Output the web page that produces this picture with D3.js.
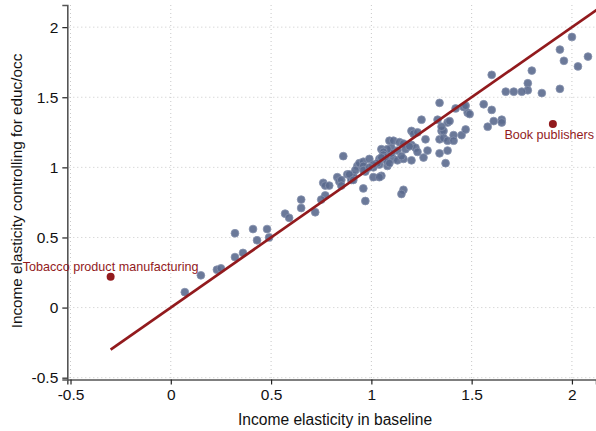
<!DOCTYPE html>
<html>
<head>
<meta charset="utf-8">
<script src="https://cdnjs.cloudflare.com/ajax/libs/d3/7.8.5/d3.min.js"></script>
<style>
    body { margin: 0; background: #fff; }
    svg { display: block; font-family: "Liberation Sans", Arial, sans-serif; }
</style>
</head>
<body>
<div id="chart"></div>
<script>
var width = 596, height = 431;
var margin = { left: 67.3, right: 0, top: 5, bottom: 51.5 };

var colorDot = "#5b6a8e";
var colorRed = "#921a1d";

var xTicks = [-0.5, 0, 0.5, 1, 1.5, 2];
var yTicks = [-0.5, 0, 0.5, 1, 1.5, 2];
var xTickLabels = ["-0.5", "0", "0.5", "1", "1.5", "2"];
var yTickLabels = ["-0.5", "0", "0.5", "1", "1.5", "2"];

// baseline elasticity, elasticity controlling for educ/occ
var baseline = [0.07, 0.15, 0.23, 0.25, 0.32, 0.36, 0.32, 0.41, 0.43, 0.48, 0.49, 0.57, 0.59, 0.65, 0.65, 0.72,
    0.76, 0.77, 0.77, 0.75, 0.79, 0.96, 0.97, 1.16, 1.15, 0.86, 0.83, 0.84, 0.85, 0.85, 0.88, 0.90, 0.90, 0.91,
    0.93, 0.94, 0.96, 0.96, 0.97, 0.99, 1.01, 1.04, 1.05, 1.05, 1.04, 1.07, 1.08, 1.08, 1.10, 1.11, 1.13, 1.13,
    1.09, 1.11, 1.14, 1.16, 1.17, 1.20, 1.22, 1.23, 1.28, 1.34, 1.38, 1.26, 1.20, 1.16, 1.10, 1.37, 1.25, 1.33,
    1.38, 1.39, 1.35, 1.36, 1.35, 1.20, 1.21, 1.23, 1.41, 1.45, 1.47, 1.34, 1.36, 1.38, 1.41, 1.27, 1.48, 1.58,
    1.60, 1.34, 1.42, 1.46, 1.47, 1.49, 1.56, 1.60, 1.61, 2.00, 1.94, 1.96, 2.08, 2.03, 1.80, 1.78, 1.78, 1.67,
    1.71, 1.75, 1.85, 1.94, 1.65, 1.65, 1.08, 1.15, 1.19, 1.01, 1.06, 1.06, 1.07, 1.08, 1.09, 1.03, 1.01, 0.96,
    0.99, 0.92, 0.89, 0.91, 1.04, 1.05];
var controlled = [0.11, 0.23, 0.27, 0.28, 0.36, 0.39, 0.53, 0.56, 0.48, 0.56, 0.50, 0.67, 0.64, 0.77, 0.71, 0.68,
    0.89, 0.87, 0.80, 0.77, 0.87, 0.85, 0.76, 0.84, 0.81, 1.08, 0.93, 0.90, 0.91, 0.87, 0.95, 0.93, 0.91, 0.94,
    1.01, 1.03, 1.04, 1.01, 0.97, 1.06, 0.93, 1.06, 1.13, 0.94, 1.02, 1.06, 1.09, 1.01, 1.14, 1.06, 1.05, 1.12,
    1.19, 1.19, 1.18, 1.17, 1.13, 1.16, 1.14, 1.11, 1.12, 1.10, 1.12, 1.07, 1.05, 1.06, 1.10, 1.03, 1.34, 1.34,
    1.32, 1.33, 1.26, 1.26, 1.29, 1.26, 1.24, 1.25, 1.23, 1.23, 1.27, 1.20, 1.21, 1.19, 1.19, 1.20, 1.39, 1.29,
    1.66, 1.46, 1.42, 1.43, 1.44, 1.38, 1.45, 1.41, 1.33, 1.93, 1.84, 1.76, 1.79, 1.72, 1.69, 1.60, 1.55, 1.54,
    1.54, 1.54, 1.53, 1.56, 1.34, 1.32, 1.13, 1.08, 1.15, 1.00, 1.11, 1.09, 1.07, 1.04, 1.03, 1.03, 1.02, 0.98,
    1.00, 0.98, 0.95, 0.91, 0.93, 1.07];

var outlierNames = ["Tobacco product manufacturing", "Book publishers"];
var outlierX = [-0.30, 1.905];
var outlierY = [0.22, 1.31];

var fitRange = [-0.30, 2.13];

var x = d3.scaleLinear()
    .domain([-0.516, 2.12])
    .range([margin.left, width - margin.right]);

var y = d3.scaleLinear()
    .domain([-0.513, 2.158])
    .range([height - margin.bottom, margin.top]);

var svg = d3.select("#chart").append("svg")
    .attr("width", width)
    .attr("height", height);

var defs = svg.append("defs");
defs.append("clipPath").attr("id", "plotClip")
    .append("rect")
    .attr("x", margin.left)
    .attr("y", margin.top)
    .attr("width", width - margin.left)
    .attr("height", height - margin.bottom - margin.top);

// grid
svg.append("g").selectAll("line").data(yTicks).enter().append("line")
    .attr("x1", margin.left + 2)
    .attr("x2", width)
    .attr("y1", d => y(d))
    .attr("y2", d => y(d))
    .style("stroke", "#c8c8c8")
    .style("stroke-width", 1)
    .style("stroke-dasharray", "1,3");

svg.append("g").selectAll("line").data(xTicks).enter().append("line")
    .attr("x1", d => x(d))
    .attr("x2", d => x(d))
    .attr("y1", margin.top)
    .attr("y2", height - margin.bottom - 1)
    .style("stroke", "#c8c8c8")
    .style("stroke-width", 1)
    .style("stroke-dasharray", "1,3");

// axes
var xAxis = d3.axisBottom(x)
    .tickValues(xTicks)
    .tickFormat((d, i) => xTickLabels[i])
    .tickSize(5)
    .tickPadding(4);

var yAxis = d3.axisLeft(y)
    .tickValues(yTicks)
    .tickFormat((d, i) => yTickLabels[i])
    .tickSize(5)
    .tickPadding(4);

var gx = svg.append("g")
    .attr("transform", "translate(0," + (height - margin.bottom) + ")")
    .call(xAxis);

var gy = svg.append("g")
    .attr("transform", "translate(" + margin.left + ",0)")
    .call(yAxis);

[gx, gy].forEach(g => {
    g.select(".domain").style("stroke", "#555").style("stroke-width", 1.6);
    g.selectAll(".tick line").style("stroke", "#222").style("stroke-width", 1.2);
    g.selectAll(".tick text").style("font-size", "15.5px").style("fill", "#111")
        .style("font-family", "'Liberation Sans', Arial, sans-serif");
});

// points
var points = baseline.map((b, i) => ({ x: b, y: controlled[i] }));

svg.append("g").selectAll("circle").data(points).enter().append("circle")
    .attr("cx", d => x(d.x))
    .attr("cy", d => y(d.y))
    .attr("r", 3.9)
    .style("fill", colorDot)
    .style("fill-opacity", 0.9)
    .style("stroke", "#8792ad")
    .style("stroke-width", 0.8);

// 45 degree line
var line = d3.line()
    .x(d => x(d))
    .y(d => y(d));

svg.append("path")
    .datum(fitRange)
    .attr("clip-path", "url(#plotClip)")
    .attr("d", line)
    .style("fill", "none")
    .style("stroke", colorRed)
    .style("stroke-width", 2.7);

// labelled outliers
var outliers = outlierNames.map((n, i) => ({ name: n, x: outlierX[i], y: outlierY[i] }));

svg.append("g").selectAll("circle").data(outliers).enter().append("circle")
    .attr("cx", d => x(d.x))
    .attr("cy", d => y(d.y))
    .attr("r", 4)
    .style("fill", colorRed);

// tobacco label sits above its dot, book publishers below (kept inside the edge)
svg.append("g").selectAll("text").data(outliers).enter().append("text")
    .attr("x", (d, i) => i === 0 ? x(d.x) : width - 2)
    .attr("y", (d, i) => y(d.y) + (i === 0 ? -6 : 15.5))
    .attr("text-anchor", (d, i) => i === 0 ? "middle" : "end")
    .style("font-size", "12.6px")
    .style("fill", colorRed)
    .text(d => d.name);

// titles
svg.append("text")
    .attr("x", 335)
    .attr("y", 425)
    .attr("text-anchor", "middle")
    .style("font-size", "15.6px")
    .style("fill", "#111")
    .text("Income elasticity in baseline");

svg.append("text")
    .attr("transform", "translate(22,191) rotate(-90)")
    .attr("text-anchor", "middle")
    .style("font-size", "15.3px")
    .style("fill", "#111")
    .text("Income elasticity controlling for educ/occ");
</script>
</body>
</html>
